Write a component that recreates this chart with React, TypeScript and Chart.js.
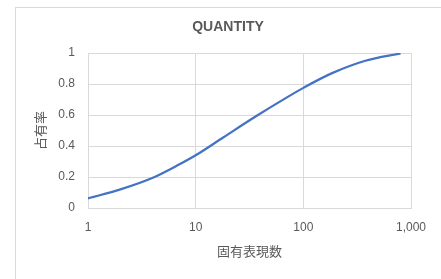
import React, { useEffect, useRef } from "react";
import { Chart, registerables } from "chart.js";

Chart.register(...registerables);

const chartTitle = "QUANTITY";
const xAxisTitle = "固有表現数";
const yAxisTitle = "占有率";

const entityCounts = [1, 2, 4, 7, 10, 18, 36, 73, 100, 185, 377, 800];
const coverage = [0.062, 0.12, 0.195, 0.28, 0.34, 0.455, 0.59, 0.72, 0.775, 0.87, 0.95, 0.997];

const xTickValues = [1, 10, 100, 1000];
const xTickLabels = ["1", "10", "100", "1,000"];
const yTickValues = [0, 0.2, 0.4, 0.6, 0.8, 1];
const yTickLabels = ["0", "0.2", "0.4", "0.6", "0.8", "1"];

const GRID = "#d9d9d9";
const TEXT = "#595959";
const NUM_FONT = "'Liberation Sans', Arial, sans-serif";
const CJK_FONT = "'Noto Sans CJK JP', 'Noto Sans', sans-serif";

const framePlugin = {
  id: "frame",
  beforeDraw(chart: any) {
    const ctx = chart.ctx;
    ctx.save();
    ctx.fillStyle = "#ffffff";
    ctx.fillRect(0, 0, chart.width, chart.height);
    ctx.strokeStyle = GRID;
    ctx.lineWidth = 1;
    ctx.strokeRect(15.5, 7.5, 600, 400);
    ctx.restore();
  },
};

export default function App() {
  const ref = useRef<HTMLCanvasElement | null>(null);

  useEffect(() => {
    if (!ref.current) return;
    const chart = new Chart(ref.current, {
      type: "line",
      data: {
        datasets: [
          {
            data: entityCounts.map((x, i) => ({ x, y: coverage[i] })),
            borderColor: "#4472C4",
            backgroundColor: "#4472C4",
            borderWidth: 2.25,
            pointRadius: 0,
            cubicInterpolationMode: "monotone",
            fill: false,
          },
        ],
      },
      options: {
        animation: false,
        responsive: false,
        layout: { padding: { left: 15, right: 0, top: 0, bottom: 0 } },
        plugins: {
          legend: { display: false },
          tooltip: { enabled: false },
          title: {
            display: true,
            text: chartTitle,
            color: TEXT,
            font: { family: NUM_FONT, size: 14, weight: "bold" },
            padding: { top: 18.6, bottom: 17.6 },
          },
        },
        scales: {
          x: {
            type: "logarithmic",
            min: 1,
            max: 1000,
            afterBuildTicks(scale: any) {
              scale.ticks = xTickValues.map((v) => ({ value: v, major: true }));
            },
            afterFit(scale: any) {
              scale.height = 71;
            },
            ticks: {
              autoSkip: false,
              maxRotation: 0,
              padding: 12,
              color: TEXT,
              font: { family: NUM_FONT, size: 12 },
              callback: (value: any) => xTickLabels[xTickValues.indexOf(Number(value))],
            },
            grid: { color: GRID, drawTicks: false },
            border: { color: GRID },
            title: {
              display: true,
              text: xAxisTitle,
              color: TEXT,
              font: { family: CJK_FONT, size: 13 },
              padding: { top: 0, bottom: 19.7 },
            },
          },
          y: {
            min: 0,
            max: 1,
            afterBuildTicks(scale: any) {
              scale.ticks = yTickValues.map((v) => ({ value: v }));
            },
            afterFit(scale: any) {
              scale.width = 73;
            },
            ticks: {
              padding: 13,
              color: TEXT,
              font: { family: NUM_FONT, size: 12 },
              callback: (value: any) => {
                const i = yTickValues.findIndex((v) => Math.abs(v - Number(value)) < 1e-6);
                return i >= 0 ? yTickLabels[i] : "";
              },
            },
            grid: { color: GRID, drawTicks: false },
            border: { color: GRID },
            title: {
              display: true,
              text: yAxisTitle,
              color: TEXT,
              font: { family: CJK_FONT, size: 13 },
              padding: { top: 17.2, bottom: 0 },
            },
          },
          spacer: {
            type: "linear",
            position: "right",
            display: true,
            afterFit(scale: any) {
              scale.width = 30;
            },
            ticks: { display: false },
            grid: { display: false, drawTicks: false },
            border: { display: false },
          },
        },
      },
      plugins: [framePlugin],
    });
    return () => chart.destroy();
  }, []);

  return (
    <div style={{ position: "absolute", left: 0, top: 0, width: 441, height: 279 }}>
      <canvas ref={ref} width={441} height={279} />
    </div>
  );
}
